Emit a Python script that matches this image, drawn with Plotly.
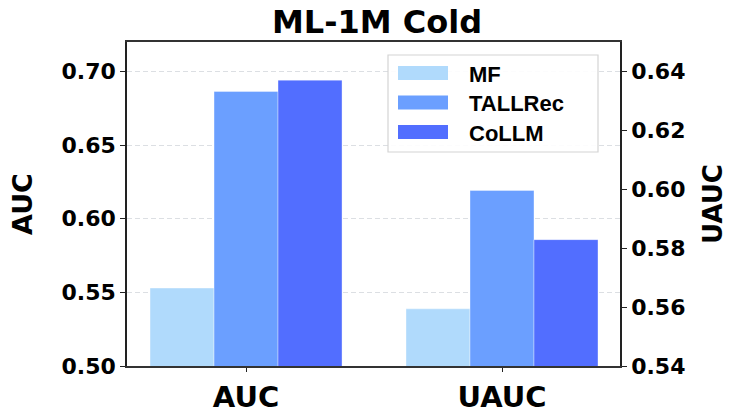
import plotly.graph_objects as go

metrics = ['AUC', 'UAUC']
methods = ['MF', 'TALLRec', 'CoLLM']
auc = [0.5529, 0.6864, 0.6941]
uauc = [0.5594, 0.5996, 0.5829]
colors = ['#b0dafc', '#6b9fff', '#526eff']

auc_ticks = [0.50, 0.55, 0.60, 0.65, 0.70]
uauc_ticks = [0.54, 0.56, 0.58, 0.60, 0.62, 0.64]

W, H = 748, 416
L, R, T, B = 127, 128, 42, 50
pw, ph = W - L - R, H - T - B


def px(x):
    return (x - L) / pw


def py(y):
    return (H - B - y) / ph


def bold(size, family='DejaVu Sans'):
    return dict(size=size, family=family, color='black', weight='bold')


fig = go.Figure()

for i, m in enumerate(methods):
    edge = dict(color='rgba(255,255,255,0.6)', width=0.6)
    fig.add_trace(go.Bar(x=[metrics[0]], y=[auc[i]], name=m, yaxis='y',
                         offsetgroup=m, showlegend=False,
                         marker=dict(color=colors[i], line=edge)))
    fig.add_trace(go.Bar(x=[metrics[1]], y=[uauc[i]], name=m, yaxis='y2',
                         offsetgroup=m, showlegend=False,
                         marker=dict(color=colors[i], line=edge)))

# legend drawn by hand to get the wide swatches of the original
shapes = [dict(type='rect', xref='paper', yref='paper',
               x0=px(388), x1=px(598), y0=py(152), y1=py(55),
               line=dict(color='#d4d4d4', width=1.2), fillcolor='rgba(255,255,255,0.9)',
               layer='above')]
annotations = []
for i, m in enumerate(methods):
    yc = 73 + 29.5 * i
    shapes.append(dict(type='rect', xref='paper', yref='paper',
                       x0=px(398), x1=px(448), y0=py(yc + 7), y1=py(yc - 7),
                       fillcolor=colors[i], line=dict(width=0), layer='above'))
    annotations.append(dict(text=m, xref='paper', yref='paper', x=px(467), y=py(yc + 1),
                            xanchor='left', yanchor='middle', showarrow=False,
                            font=bold(22, 'Liberation Sans')))

axis_common = dict(showline=True, linecolor='#222', linewidth=1.6,
                   ticks='outside', ticklen=5, tickcolor='#222', tickwidth=1.2,
                   zeroline=False, automargin=False)

fig.update_layout(
    width=W, height=H,
    margin=dict(l=L, r=R, t=T, b=B),
    plot_bgcolor='white', paper_bgcolor='white',
    barmode='group', bargap=0.25, bargroupgap=0,
    showlegend=False,
    title=dict(text='ML-1M Cold', x=px(377), xref='paper', xanchor='center',
               y=1 - 22 / H, yanchor='middle', font=bold(32)),
    xaxis=dict(range=[-0.465, 1.461], mirror=True, tickfont=bold(29),
               **{**axis_common, 'linewidth': 2.2, 'linecolor': '#333', 'ticklen': 4}),
    yaxis=dict(range=[0.5, 0.72], tickvals=auc_ticks, tickformat='.2f',
               tickfont=bold(22),
               showgrid=True, gridcolor='#dcdfe3', griddash='5px,3px', gridwidth=1,
               title=dict(text='AUC', font=bold(27), standoff=21),
               **axis_common),
    yaxis2=dict(range=[0.54, 0.65], tickvals=uauc_ticks, tickformat='.2f',
                overlaying='y', side='right', tickfont=bold(22), showgrid=False,
                title=dict(text='UAUC', font=bold(26), standoff=19),
                **axis_common),
    shapes=shapes,
    annotations=annotations,
)

# the page's default body margin would push the figure 8px off the window
fig.write_html('out.html', config={'displayModeBar': False},
               post_script="document.body.style.margin='0';")
